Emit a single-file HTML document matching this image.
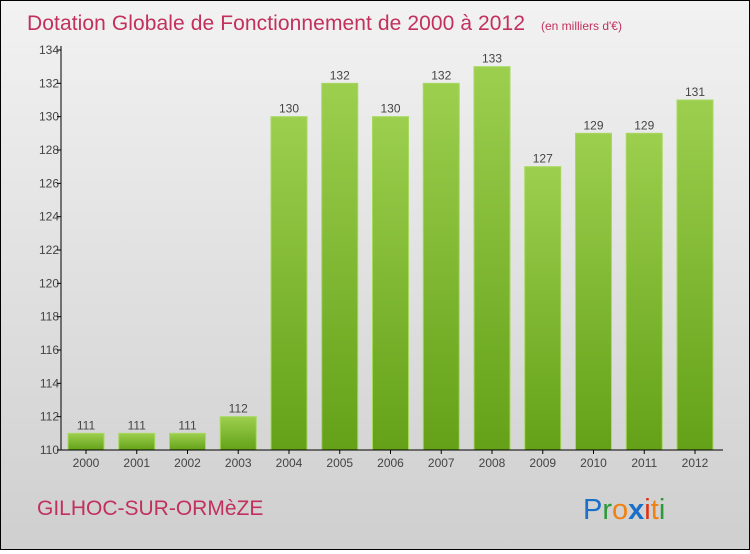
<!DOCTYPE html>
<html><head><meta charset="utf-8"><style>
body{margin:0}
#c{width:748px;height:548px;border:1px solid #000;background:linear-gradient(#f2f2f2,#cfcfcf);position:relative;font-family:"Liberation Sans","DejaVu Sans",sans-serif}
</style></head><body>
<div id="c">
<svg width="748" height="548">
<defs><linearGradient id="g" x1="0" y1="0" x2="0" y2="1"><stop offset="0" stop-color="#9ccf4e"/><stop offset="1" stop-color="#64a118"/></linearGradient></defs>
<text x="26" y="29" font-size="21" textLength="498" fill="#c2305e">Dotation Globale de Fonctionnement de 2000 à 2012</text>
<text x="540" y="29" font-size="12" fill="#c2305e">(en milliers d'€)</text>
<g id="plot"></g>
<text x="36" y="514" font-size="21" fill="#c2305e">GILHOC-SUR-ORMèZE</text>
<text x="582" y="518" font-size="29"><tspan fill="#1a6fc8">P</tspan><tspan fill="#2a9a3a">r</tspan><tspan fill="#f08010">o</tspan><tspan fill="#1a6fc8" font-weight="bold">x</tspan><tspan fill="#e03010">i</tspan><tspan fill="#f08010">t</tspan><tspan fill="#2a9a3a">i</tspan></text>
</svg></div>
<script>
const years=["2000","2001","2002","2003","2004","2005","2006","2007","2008","2009","2010","2011","2012"];
const values=[111,111,111,112,130,132,130,132,133,127,129,129,131];
const ticks=[110,112,114,116,118,120,122,124,126,128,130,132,134];
const ns="http://www.w3.org/2000/svg",p=document.getElementById('plot');
const y=v=>449-(v-110)*(400/24), x=i=>85+i*50.75;
function mk(t,a){const e=document.createElementNS(ns,t);for(const k in a)e.setAttribute(k,a[k]);p.appendChild(e);return e;}
values.forEach((v,i)=>{
 const r=mk('rect',{x:x(i)-18,y:y(v),width:36,height:449-y(v),fill:'url(#g)',stroke:'#a8d860','stroke-width':1});
 
 
 const t=mk('text',{x:x(i),y:y(v)-4,'font-size':12,fill:'#444','text-anchor':'middle'});t.textContent=v;
 
 
 const l=mk('text',{x:x(i),y:466,'font-size':12,fill:'#444','text-anchor':'middle'});l.textContent=years[i];
 
 
 mk('line',{x1:x(i),x2:x(i),y1:449,y2:453,stroke:'#000'});
});
ticks.forEach(v=>{
 const t=mk('text',{x:58,y:y(v)+4,'font-size':12,fill:'#444','text-anchor':'end'});t.textContent=v;
 
 
 mk('line',{x1:56,x2:60,y1:y(v),y2:y(v),stroke:'#000'});
});
const ya=mk('line',{x1:60,x2:60,y1:45,y2:449,stroke:'#000'});


const xa=mk('line',{x1:60,x2:722,y1:449,y2:449,stroke:'#000'});


</script>
</body></html>
